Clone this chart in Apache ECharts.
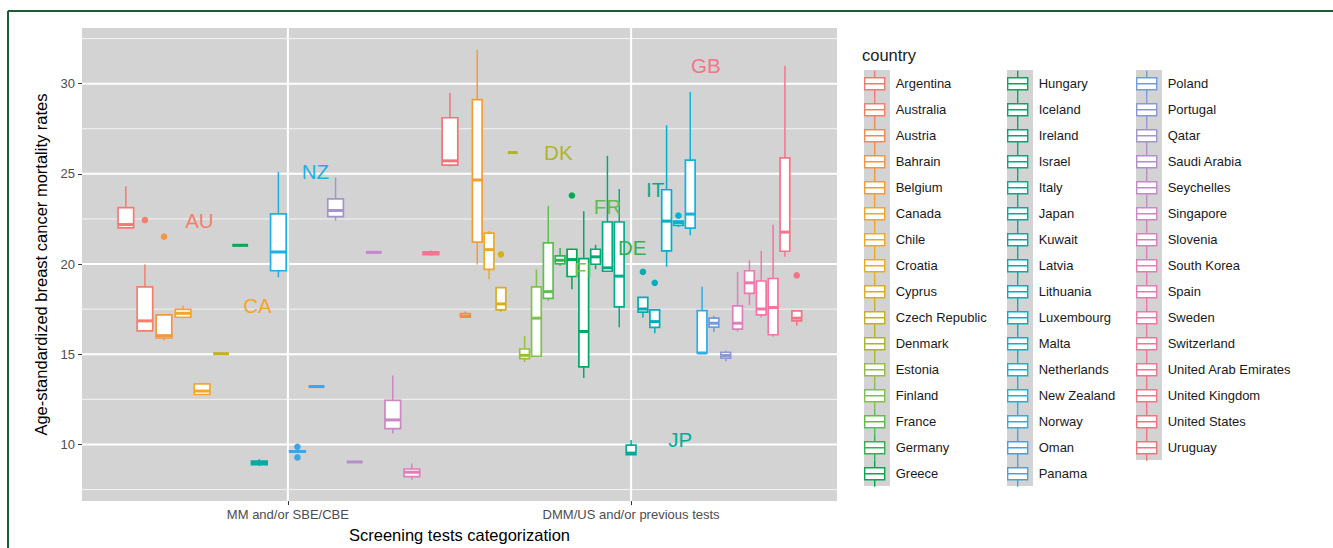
<!DOCTYPE html>
<html>
<head>
<meta charset="utf-8">
<script src="https://cdn.jsdelivr.net/npm/echarts@6/dist/echarts.min.js"></script>
<style>
  html, body { margin: 0; padding: 0; background: #ffffff; }
  #chart { width: 1333px; height: 548px; }
</style>
</head>
<body>
<div id="chart"></div>
<script>
// Screening category names (x axis)
const categories = ['MM and/or SBE/CBE', 'DMM/US and/or previous tests'];

// Countries in legend order
const countries = [
  'Argentina', 'Australia', 'Austria', 'Bahrain', 'Belgium', 'Canada', 'Chile', 'Croatia',
  'Cyprus', 'Czech Republic', 'Denmark', 'Estonia', 'Finland', 'France', 'Germany', 'Greece',
  'Hungary', 'Iceland', 'Ireland', 'Israel', 'Italy', 'Japan', 'Kuwait', 'Latvia',
  'Lithuania', 'Luxembourg', 'Malta', 'Netherlands', 'New Zealand', 'Norway', 'Oman', 'Panama',
  'Poland', 'Portugal', 'Qatar', 'Saudi Arabia', 'Seychelles', 'Singapore', 'Slovenia', 'South Korea',
  'Spain', 'Sweden', 'Switzerland', 'United Arab Emirates', 'United Kingdom', 'United States', 'Uruguay'
];

// Screening category of each country (0 = MM and/or SBE/CBE, 1 = DMM/US and/or previous tests)
const screeningGroup = [
  0, 0, 1, 0, 1, 0, 0, 1,
  1, 0, 1, 1, 1, 1, 1, 1,
  0, 1, 1, 1, 1, 1, 0, 1,
  1, 1, 1, 1, 0, 1, 0, 0,
  1, 1, 0, 0, 0, 0, 1, 0,
  1, 1, 1, 0, 1, 1, 0
];

// Box statistics per country
const lowWhisker = [
  22.01, 16.27, 17.03, 15.77, 19.97, 17.00, 12.74, 19.16,
  17.33, 15.03, 26.18, 14.57, 14.85, 17.97, 19.90, 18.61,
  21.04, 13.69, 19.71, 19.60, 16.49, 9.43, 8.80, 17.04,
  16.17, 19.85, 22.05, 21.59, 19.26, 15.07, 9.55, 13.21,
  16.23, 14.61, 22.41, 9.03, 20.65, 10.61, 16.26, 8.05,
  17.73, 17.04, 15.99, 20.47, 20.40, 16.58, 25.41
];
const lowerHinge = [
  22.01, 16.30, 17.05, 15.90, 21.22, 17.05, 12.77, 19.71,
  17.46, 15.03, 26.18, 14.76, 14.89, 18.10, 20.01, 19.31,
  21.04, 14.30, 19.99, 19.60, 17.63, 9.43, 8.88, 17.33,
  16.49, 20.73, 22.14, 21.99, 19.63, 15.07, 9.58, 13.21,
  16.50, 14.79, 22.63, 9.03, 20.65, 10.88, 16.39, 8.22,
  18.37, 17.18, 16.08, 20.52, 20.71, 16.85, 25.48
];
const medians = [
  22.19, 16.85, 17.12, 16.03, 24.66, 17.27, 12.96, 20.80,
  17.79, 15.03, 26.18, 14.94, 17.00, 18.47, 20.21, 20.25,
  21.04, 16.26, 20.40, 19.79, 19.33, 9.52, 8.98, 17.51,
  16.81, 22.38, 22.30, 22.77, 20.67, 15.07, 9.61, 13.21,
  16.72, 14.93, 22.97, 9.03, 20.65, 11.36, 16.72, 8.46,
  18.96, 17.51, 17.59, 20.60, 21.77, 17.00, 25.72
];
const upperHinge = [
  23.13, 18.74, 17.25, 17.18, 29.12, 17.49, 13.36, 21.72,
  18.69, 15.03, 26.18, 15.29, 18.74, 21.17, 20.45, 20.82,
  21.04, 20.30, 20.82, 22.33, 22.33, 9.96, 9.08, 18.15,
  17.46, 24.12, 22.38, 25.76, 22.78, 17.42, 9.64, 13.21,
  17.00, 15.11, 23.61, 9.03, 20.65, 12.44, 17.68, 8.64,
  19.63, 19.06, 19.20, 20.68, 25.89, 17.40, 28.11
];
const highWhisker = [
  24.31, 19.97, 17.37, 17.18, 31.87, 17.69, 13.42, 21.83,
  18.69, 15.03, 26.18, 16.02, 19.70, 23.21, 20.89, 20.82,
  21.04, 22.93, 21.07, 26.00, 24.16, 10.25, 9.18, 18.15,
  17.46, 27.69, 22.38, 29.54, 25.11, 18.74, 9.66, 13.21,
  17.13, 15.20, 24.80, 9.03, 20.65, 13.82, 19.57, 8.95,
  20.21, 20.73, 22.18, 20.75, 30.99, 17.45, 29.49
];
const outliers = [
  [], [22.44], [], [21.52], [], [], [], [],
  [20.54], [], [], [], [], [], [], [23.80],
  [], [], [], [], [], [], [], [19.57],
  [18.96], [], [22.69], [], [], [], [9.87, 9.28], [],
  [], [], [], [], [], [], [], [],
  [], [], [], [], [], [19.37], []
];

// Country code annotations, drawn at each country's highest value
const annotationCodes = ['AU', 'CA', 'NZ', 'DK', 'FI', 'FR', 'DE', 'IT', 'JP', 'GB'];
const annotationCountry = ['Australia', 'Canada', 'New Zealand', 'Denmark', 'Finland', 'France', 'Germany', 'Italy', 'Japan', 'United Kingdom'];
const annotationX = [0.742, 0.911, 1.080, 1.788, 1.860, 1.931, 2.003, 2.070, 2.143, 2.218];

// Axis ticks and grid
const yTicks = [10, 15, 20, 25, 30];
const yMinor = [7.5, 12.5, 17.5, 22.5, 27.5, 32.5];
const xTicks = [1, 2];

const FONT = '"Liberation Sans", Arial, Helvetica, sans-serif';

// Soft hue wheel, one colour per country in legend order
const palette = [
  '#f27a72', '#f4806a', '#f38a50', '#f59540', '#f59c30', '#f5a42a', '#f2a826', '#e8ac22',
  '#d8ae1c', '#c2b21c', '#acb628', '#98be40', '#7fc04e', '#5ebe50', '#2eb452', '#00a850',
  '#00a85a', '#00a866', '#00a872', '#00aa80', '#00ac8c', '#00ac98', '#00aca4', '#00acb0',
  '#00aebc', '#00b0c8', '#00b2d4', '#10b2e0', '#1eb0e4', '#30ace8', '#3aa6ea', '#44a2e8',
  '#6f9cdc', '#8c98d4', '#a294ce', '#b48eca', '#c28ac8', '#ce86c4', '#da80be', '#e47cb8',
  '#ee78b0', '#f276a6', '#f4749c', '#f47494', '#f4748c', '#f27484', '#f0747c'
];

// Countries present in each screening category, in legend order
const groupMembers = [[], []];
countries.forEach((_, i) => groupMembers[screeningGroup[i]].push(i));

function slotX(ci) {
  const g = screeningGroup[ci];
  const members = groupMembers[g];
  const n = members.length;
  const s = members.indexOf(ci);
  return { x: g + 1 + (s - (n - 1) / 2) / n, hw: 0.41 / n };
}

function boxRenderer(ci) {
  return function (params, api) {
    const color = palette[ci];
    const { x, hw } = slotX(ci);
    const pLeftTop = api.coord([x - hw, upperHinge[ci]]);
    const pRightBottom = api.coord([x + hw, lowerHinge[ci]]);
    const pHigh = api.coord([x, highWhisker[ci]]);
    const pLow = api.coord([x, lowWhisker[ci]]);
    const pMedL = api.coord([x - hw, medians[ci]]);
    const pMedR = api.coord([x + hw, medians[ci]]);
    const children = [
      { type: 'line', shape: { x1: pHigh[0], y1: pHigh[1], x2: pHigh[0], y2: pLeftTop[1] },
        style: { stroke: color, lineWidth: 1.5 } },
      { type: 'line', shape: { x1: pLow[0], y1: pRightBottom[1], x2: pLow[0], y2: pLow[1] },
        style: { stroke: color, lineWidth: 1.5 } },
      { type: 'rect', shape: { x: pLeftTop[0], y: pLeftTop[1],
          width: pRightBottom[0] - pLeftTop[0], height: pRightBottom[1] - pLeftTop[1] },
        style: { fill: '#ffffff', stroke: color, lineWidth: 1.7 } },
      { type: 'line', shape: { x1: pMedL[0], y1: pMedL[1], x2: pMedR[0], y2: pMedR[1] },
        style: { stroke: color, lineWidth: 3 } }
    ];
    outliers[ci].forEach(v => {
      const p = api.coord([x, v]);
      children.push({ type: 'circle', shape: { cx: p[0], cy: p[1], r: 3.3 }, style: { fill: color } });
    });
    return { type: 'group', children };
  };
}

const gridSeries = {
  type: 'custom',
  name: '__grid',
  silent: true,
  data: [[1, 20]],
  z: 1,
  renderItem: function (params, api) {
    const children = [];
    yMinor.forEach(v => {
      const a = api.coord([0.4, v]), b = api.coord([2.6, v]);
      children.push({ type: 'line', shape: { x1: a[0], y1: a[1], x2: b[0], y2: b[1] },
        style: { stroke: '#f4f4f4', lineWidth: 1 } });
    });
    yTicks.forEach(v => {
      const a = api.coord([0.4, v]), b = api.coord([2.6, v]);
      children.push({ type: 'line', shape: { x1: a[0], y1: a[1], x2: b[0], y2: b[1] },
        style: { stroke: '#ffffff', lineWidth: 2 } });
    });
    xTicks.forEach(v => {
      const a = api.coord([v, 6.86]), b = api.coord([v, 33.085]);
      children.push({ type: 'line', shape: { x1: a[0], y1: a[1], x2: b[0], y2: b[1] },
        style: { stroke: '#ffffff', lineWidth: 2 } });
    });
    return { type: 'group', children };
  }
};

const boxSeries = countries.map((name, ci) => ({
  type: 'custom',
  name: name,
  silent: true,
  color: palette[ci],
  itemStyle: { color: palette[ci], borderColor: palette[ci] },
  data: [[slotX(ci).x, medians[ci]]],
  z: 2,
  renderItem: boxRenderer(ci)
}));

const annotationData = annotationCodes.map((code, k) => {
  const ci = countries.indexOf(annotationCountry[k]);
  const top = Math.max(highWhisker[ci], ...outliers[ci]);
  return [annotationX[k], top, k];
});

const labelSeries = {
  type: 'custom',
  name: '__labels',
  silent: true,
  z: 3,
  data: annotationData,
  renderItem: function (params, api) {
    const k = api.value(2);
    const p = api.coord([api.value(0), api.value(1)]);
    const ci = countries.indexOf(annotationCountry[k]);
    return {
      type: 'text',
      x: p[0], y: p[1],
      style: { text: annotationCodes[k], fill: palette[ci], font: '20.5px ' + FONT,
        align: 'center', verticalAlign: 'middle' }
    };
  }
};

const legendLefts = [864, 1007, 1136];
const legendCols = [countries.slice(0, 16), countries.slice(16, 32), countries.slice(32)];
const keyIcon = 'path://M11,0L11,7M1,7L21,7L21,19L1,19ZM1,13L21,13M11,19L11,26';

const option = {
  animation: false,
  textStyle: { fontFamily: FONT },
  title: {
    text: 'country', left: 862, top: 46, padding: 0,
    textStyle: { fontSize: 16.5, fontWeight: 'normal', color: '#1a1a1a', fontFamily: FONT }
  },
  graphic: [
    { type: 'line', shape: { x1: 8, y1: 11, x2: 1333, y2: 11 }, style: { stroke: '#1e5a32', lineWidth: 2 } },
    { type: 'line', shape: { x1: 8, y1: 11, x2: 8, y2: 548 }, style: { stroke: '#1e5a32', lineWidth: 2 } },
    ...legendCols.map((col, c) => ({
      type: 'rect', z: -1,
      shape: { x: legendLefts[c], y: 70, width: 26, height: col.length * 26 },
      style: { fill: '#d3d3d3' }
    }))
  ],
  legend: legendCols.map((col, c) => ({
    data: col,
    orient: 'vertical',
    left: legendLefts[c], top: 70,
    padding: 0,
    itemWidth: 26, itemHeight: 26, itemGap: -1.4,
    icon: keyIcon,
    symbolKeepAspect: true,
    selectedMode: false,
    itemStyle: { color: '#ffffff', borderColor: 'inherit', borderWidth: 1.4 },
    textStyle: { fontSize: 13, color: '#1a1a1a', fontFamily: FONT, padding: [0, 0, 0, 3] }
  })),
  grid: {
    left: 82, top: 28, width: 755, height: 476,
    show: true, backgroundColor: '#d3d3d3', borderWidth: 0
  },
  xAxis: {
    type: 'value', min: 0.4, max: 2.6,
    axisLine: { show: false },
    splitLine: { show: false },
    axisTick: { show: true, customValues: xTicks, length: 4, lineStyle: { color: '#333333', width: 1 } },
    axisLabel: { customValues: xTicks, formatter: v => categories[Math.round(v) - 1] || '',
      margin: 7, fontSize: 13, color: '#4d4d4d', fontFamily: FONT },
    name: 'Screening tests categorization',
    nameLocation: 'middle', nameGap: 24,
    nameTextStyle: { fontSize: 16.5, color: '#000000', fontFamily: FONT }
  },
  yAxis: {
    type: 'value', min: 6.86, max: 33.085,
    axisLine: { show: false },
    splitLine: { show: false },
    axisTick: { show: true, customValues: yTicks, length: 4, lineStyle: { color: '#333333', width: 1 } },
    axisLabel: { customValues: yTicks, margin: 7, fontSize: 13, color: '#4d4d4d', fontFamily: FONT },
    name: 'Age-standardized breast cancer mortality rates',
    nameLocation: 'middle', nameGap: 29,
    nameTextStyle: { fontSize: 16.5, color: '#000000', fontFamily: FONT }
  },
  series: [gridSeries, ...boxSeries, labelSeries]
};

const chart = echarts.init(document.getElementById('chart'), null, { renderer: 'svg' });
chart.setOption(option);
</script>
</body>
</html>
